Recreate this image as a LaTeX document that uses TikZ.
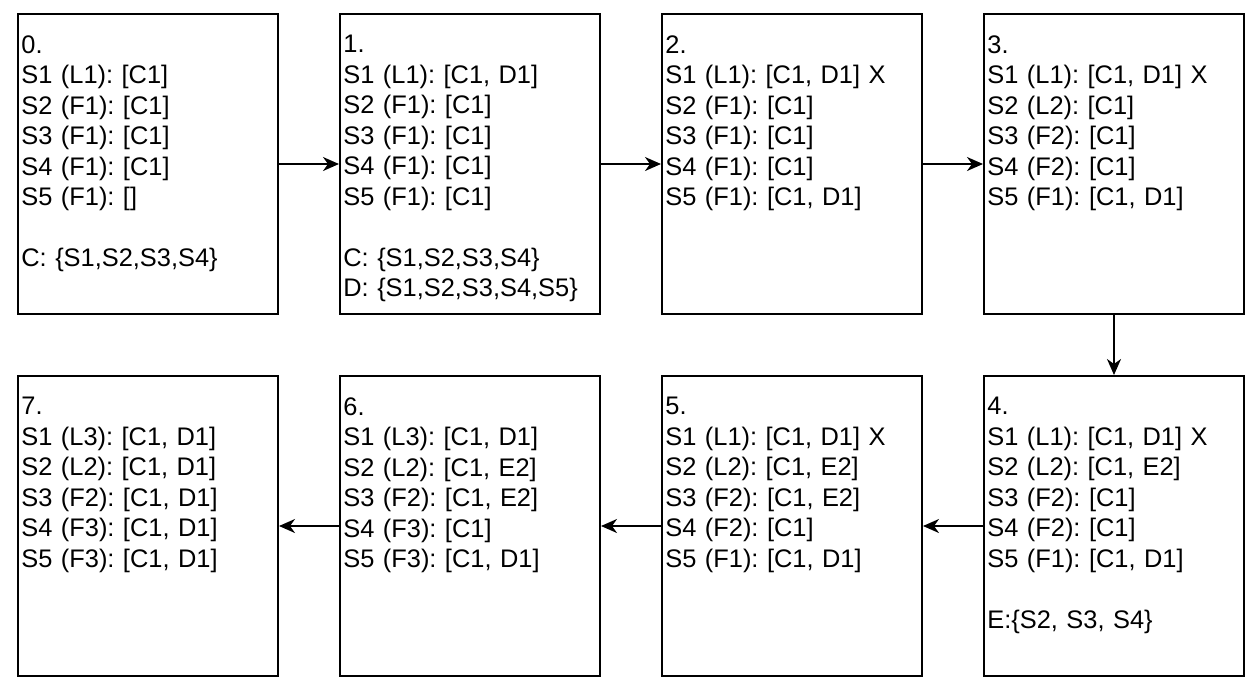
\documentclass[tikz,border=0pt]{standalone}
\usepackage{fontspec}
\setmainfont{Liberation Sans}
\usepackage{tikz}
\usetikzlibrary{arrows.meta,positioning}
\frenchspacing

\begin{document}
\begin{tikzpicture}[
      node distance = 30pt and 30pt,
      box/.style    = {draw, line width=1pt, minimum width=130pt,
                       minimum height=150pt, inner sep=0pt},
      txt/.style    = {anchor=north west, inner sep=0pt, xshift=2pt, yshift=-11pt,
                       text width=126pt, align=left,
                       font=\fontsize{12.7}{15.25}\selectfont},
      arr/.style    = {-{Stealth[length=8pt, width=7pt, inset=2.5pt]}, line width=0.9pt},
    ]

    \useasboundingbox (-8.5pt,6.5pt) rectangle (621.5pt,-339.5pt);

    % ---- Row 1 ----
    \node[box, anchor=north west] (s0) at (0,0) {};
    \node[box, right=of s0] (s1) {};
    \node[box, right=of s1] (s2) {};
    \node[box, right=of s2] (s3) {};

    % ---- Row 2 ----
    \node[box, below=of s3] (s4) {};
    \node[box, left=of s4]  (s5) {};
    \node[box, left=of s5]  (s6) {};
    \node[box, left=of s6]  (s7) {};

    % state texts
    \node[txt] (t0) at (s0.north west) {0.\\
      S1 (L1): [C1]\\S2 (F1): [C1]\\S3 (F1): [C1]\\S4 (F1): [C1]\\S5 (F1): []\\[15.25pt]
      C: \{S1,S2,S3,S4\}};
    \node[txt] (t1) at (s1.north west) {1.\\
      S1 (L1): [C1, D1]\\S2 (F1): [C1]\\S3 (F1): [C1]\\S4 (F1): [C1]\\S5 (F1): [C1]\\[15.25pt]
      C: \{S1,S2,S3,S4\}\\D: \{S1,S2,S3,S4,S5\}};
    \node[txt] (t2) at (s2.north west) {2.\\
      S1 (L1): [C1, D1] X\\S2 (F1): [C1]\\S3 (F1): [C1]\\S4 (F1): [C1]\\S5 (F1): [C1, D1]};
    \node[txt] (t3) at (s3.north west) {3.\\
      S1 (L1): [C1, D1] X\\S2 (L2): [C1]\\S3 (F2): [C1]\\S4 (F2): [C1]\\S5 (F1): [C1, D1]};
    \node[txt] (t4) at (s4.north west) {4.\\
      S1 (L1): [C1, D1] X\\S2 (L2): [C1, E2]\\S3 (F2): [C1]\\S4 (F2): [C1]\\S5 (F1): [C1, D1]\\[15.25pt]
      E:\{S2, S3, S4\}};
    \node[txt] (t5) at (s5.north west) {5.\\
      S1 (L1): [C1, D1] X\\S2 (L2): [C1, E2]\\S3 (F2): [C1, E2]\\S4 (F2): [C1]\\S5 (F1): [C1, D1]};
    \node[txt] (t6) at (s6.north west) {6.\\
      S1 (L3): [C1, D1]\\S2 (L2): [C1, E2]\\S3 (F2): [C1, E2]\\S4 (F3): [C1]\\S5 (F3): [C1, D1]};
    \node[txt] (t7) at (s7.north west) {7.\\
      S1 (L3): [C1, D1]\\S2 (L2): [C1, D1]\\S3 (F2): [C1, D1]\\S4 (F3): [C1, D1]\\S5 (F3): [C1, D1]};

    % transitions
    \draw[arr] (s0) -- (s1);
    \draw[arr] (s1) -- (s2);
    \draw[arr] (s2) -- (s3);
    \draw[arr] (s3) -- (s4);
    \draw[arr] (s4) -- (s5);
    \draw[arr] (s5) -- (s6);
    \draw[arr] (s6) -- (s7);
  \end{tikzpicture}
\end{document}
